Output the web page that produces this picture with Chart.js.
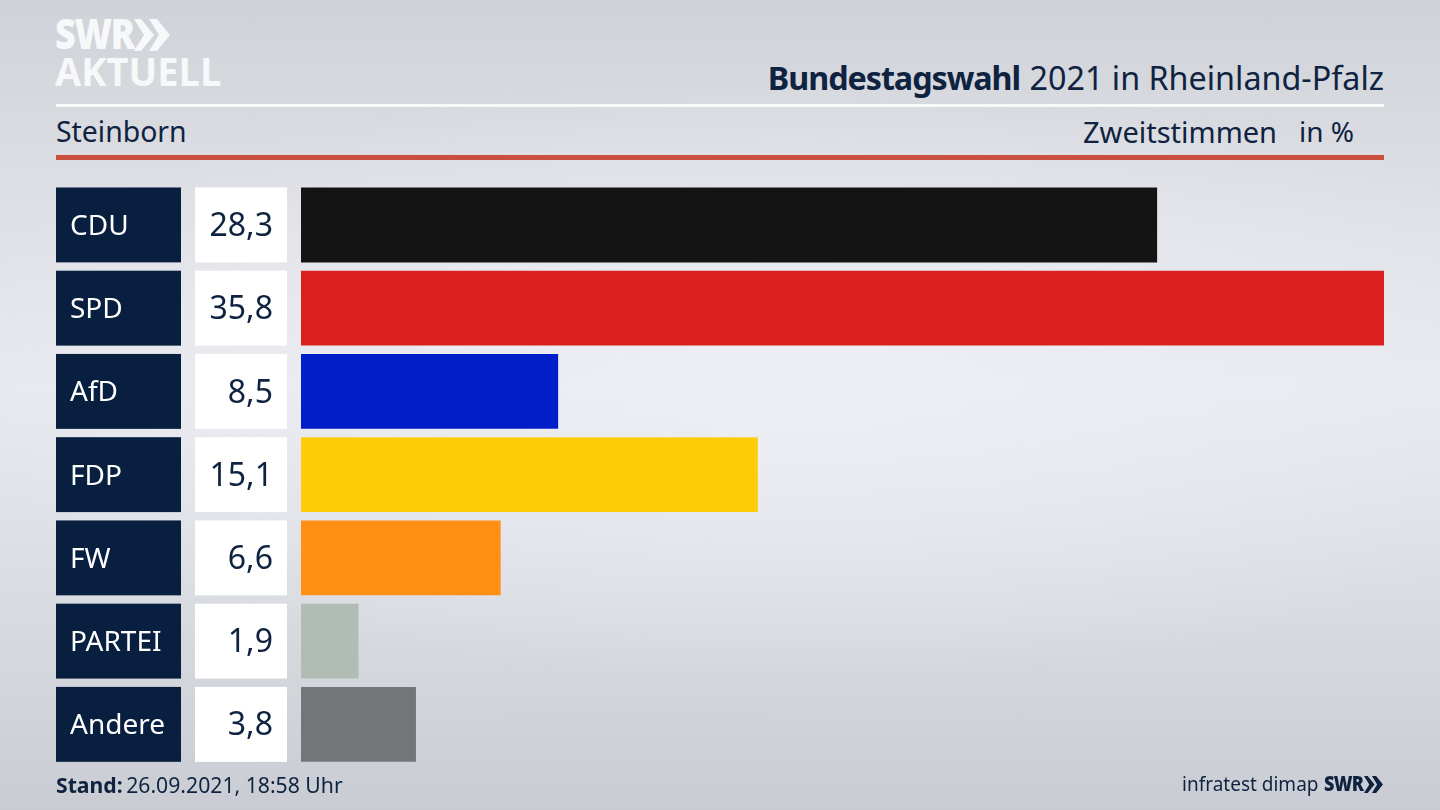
<!DOCTYPE html>
<html lang="de">
<head>
<meta charset="utf-8">
<title>Bundestagswahl 2021 in Rheinland-Pfalz</title>
<script src="https://cdn.jsdelivr.net/npm/chart.js@4"></script>
<style>
  html, body { margin: 0; padding: 0; }
  body {
    width: 1440px; height: 810px; overflow: hidden; position: relative;
    font-family: "Noto Sans", sans-serif; color: #0f2340;
    background:
      radial-gradient(ellipse 900px 300px at 55% 47%, rgba(238,239,244,.95), rgba(238,239,244,0)),
      linear-gradient(to bottom, #cfd2d8 0%, #dcdee3 22%, #e8e9ee 48%, #d8dbe0 75%, #c9cdd3 100%);
  }
  canvas { position: absolute; left: 0; top: 0; }
  .abs { position: absolute; white-space: nowrap; line-height: 1; }
  .line { position: absolute; left: 56px; width: 1328px; }
  .logo { font-family: "Open Sans", sans-serif; transform-origin: left top; }
</style>
</head>
<body>
<div class="abs logo" style="left:55px;top:12px;font-size:42px;font-weight:800;color:#f7f8f9;letter-spacing:-1.5px;transform:scaleX(.86)">SWR</div>
<svg class="abs" style="left:134px;top:19px" width="38" height="32" viewBox="0 0 38 32">
  <polygon points="0,0 7,0 20,16 7,32 0,32 10,16" fill="#f7f8f9"/>
  <polygon points="15,0 23,0 36,16 23,32 15,32 25,16" fill="#f7f8f9"/>
</svg>
<div class="abs logo" style="left:55px;top:51px;font-size:40px;font-weight:700;color:#f7f8f9;transform:scaleX(.95)">AKTUELL</div>

<div class="abs" style="right:56px;top:61px;font-size:32.3px"><b style="letter-spacing:-1.05px;margin-right:1px">Bundestagswahl</b> 2021 in Rheinland-Pfalz</div>
<div class="line" style="top:104px;height:3px;background:#f8f9fa"></div>
<div class="abs" style="left:56px;top:117px;font-size:28.4px">Steinborn</div>
<div class="abs" style="left:1083px;top:117px;font-size:29px">Zweitstimmen</div>
<div class="abs" style="left:1299px;top:117px;font-size:28px">in %</div>
<div class="line" style="top:155px;height:5px;background:#c9503e"></div>

<canvas id="grafica" width="1440" height="810"></canvas>

<div class="abs" style="left:56px;top:774px;font-size:21.2px"><b style="margin-right:-2px">Stand:</b> 26.09.2021, 18:58 Uhr</div>
<div class="abs" style="left:1182px;top:775px;font-size:19px">infratest dimap</div>
<div class="abs logo" style="left:1324px;top:773px;font-size:21px;font-weight:800;letter-spacing:-.8px;transform:scaleX(.86)">SWR</div>
<svg class="abs" style="left:1364px;top:776px" width="20" height="17" viewBox="0 0 38 32">
  <polygon points="0,0 7,0 20,16 7,32 0,32 10,16" fill="#0f2340"/>
  <polygon points="15,0 23,0 36,16 23,32 15,32 25,16" fill="#0f2340"/>
</svg>

<script>
const PARTEIEN = ['CDU', 'SPD', 'AfD', 'FDP', 'FW', 'PARTEI', 'Andere'];
const WERTE    = [28.3, 35.8, 8.5, 15.1, 6.6, 1.9, 3.8];
const FARBEN   = ['#141414', '#d9201f', '#001fc8', '#ffcc08', '#ff9015', '#b1bcb4', '#747576'];

const NAVY = '#091f3f';

// Kästen links neben den Balken
const kaesten = {
  id: 'kaesten',
  beforeDraw(chart) {
    const { ctx, scales: { y } } = chart;
    const h = chart.getDatasetMeta(0).data[0].height;
    PARTEIEN.forEach((p, i) => {
      const c = y.getPixelForValue(i);
      ctx.fillStyle = NAVY;
      ctx.fillRect(56, c - h / 2, 125, h);
      ctx.fillStyle = '#fff';
      ctx.fillRect(195, c - h / 2, 92, h);
    });
  },
  afterDatasetsDraw(chart) {
    const { ctx, scales: { y } } = chart;
    ctx.save();
    ctx.font = '32px "Noto Sans", sans-serif';
    ctx.fillStyle = '#0f2340';
    ctx.textAlign = 'right';
    ctx.textBaseline = 'middle';
    WERTE.forEach((w, i) => {
      ctx.fillText(w.toFixed(1).replace('.', ','), 273, y.getPixelForValue(i) + 2);
    });
    ctx.restore();
  }
};

new Chart(document.getElementById('grafica'), {
  type: 'bar',
  data: {
    labels: PARTEIEN,
    datasets: [{
      data: WERTE,
      backgroundColor: FARBEN,
      borderWidth: 0,
      categoryPercentage: 1,
      barPercentage: 0.9,
    }]
  },
  plugins: [kaesten],
  options: {
    indexAxis: 'y',
    responsive: false,
    animation: false,
    layout: { padding: { left: 70, right: 56, top: 183.3, bottom: 44 } },
    plugins: { legend: { display: false }, tooltip: { enabled: false } },
    scales: {
      x: { display: false, min: 0, max: 35.8 },
      y: {
        afterFit: s => { s.width = 231; },
        grid: { display: false },
        border: { display: false },
        ticks: {
          color: '#ffffff',
          crossAlign: 'far',
          labelOffset: 2,
          font: { family: '"Noto Sans", sans-serif', size: 28 },
        }
      }
    }
  }
});
</script>
</body>
</html>
